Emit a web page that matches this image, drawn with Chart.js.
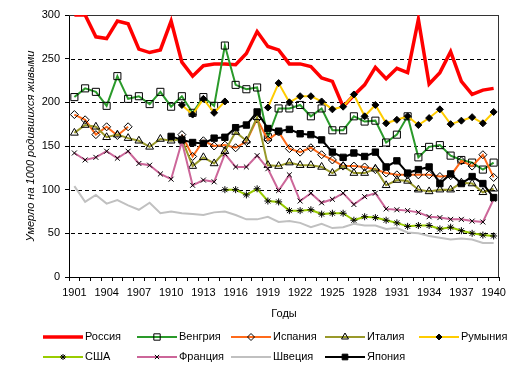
<!DOCTYPE html>
<html>
<head>
<meta charset="utf-8">
<script src="https://cdn.jsdelivr.net/npm/chart.js"></script>
<style>
html, body { margin: 0; padding: 0; background: #fff; }
</style>
</head>
<body>
<canvas id="mortalityChart" width="514" height="372"></canvas>
<script>
// infant mortality, deaths per 1000 live births, 1901-1940
const years = ['1901','1902','1903','1904','1905','1906','1907','1908','1909','1910',
  '1911','1912','1913','1914','1915','1916','1917','1918','1919','1920',
  '1921','1922','1923','1924','1925','1926','1927','1928','1929','1930',
  '1931','1932','1933','1934','1935','1936','1937','1938','1939','1940'];
const tickYears = ['1901','1904','1907','1910','1913','1916','1919','1922','1925','1928','1931','1934','1937','1940'];
const yTicks = [0, 50, 100, 150, 200, 250, 300];

const russia = [300,300,275,273,293,290,261,257,260,293,246,230,242,244,244,243,256,281,264,260,
  244,244,241,228,224,195,208,220,240,227,239,234,295,221,234,258,224,209,214,216];
const hungary = [206,216,212,196,230,204,207,198,212,195,207,188,206,196,265,220,215,217,160,193,
  193,197,184,193,168,168,184,178,179,154,163,184,137,149,151,139,134,131,123,131];
const spain = [186,180,163,172,162,172,null,null,null,null,163,138,156,150,151,148,155,181,157,166,
  147,143,148,140,134,127,127,126,123,119,117,117,117,117,115,116,133,127,140,114];
const italy = [165,174,172,160,163,159,156,149,158,156,158,127,137,130,144,166,156,183,128,127,
  131,128,128,126,119,127,119,119,124,105,111,110,100,98,100,100,108,107,97,101];
const romania = [null,null,null,null,null,null,null,null,null,null,197,186,204,188,201,null,null,null,194,222,
  200,207,207,201,192,195,209,184,197,176,180,184,174,182,192,175,179,183,176,189];
const usa = [null,null,null,null,null,null,null,null,null,null,null,null,null,null,100,100,94,101,87,86,
  76,76,77,72,73,73,65,69,68,65,62,58,59,59,55,57,53,50,48,47];
const france = [142,134,137,144,136,144,130,128,118,112,155,105,111,109,141,126,126,139,124,99,
  117,87,96,85,89,96,83,92,96,78,77,76,74,69,68,66,66,64,63,89];
const sweden = [104,86,94,84,88,82,77,85,73,75,73,72,71,74,75,71,66,66,69,63,
  64,62,57,61,56,57,61,59,59,55,56,51,50,47,45,43,44,43,39,39];
const japan = [null,null,null,null,null,null,null,null,null,161,157,154,153,159,160,171,174,189,170,167,
  169,164,163,157,143,137,142,138,143,126,133,119,123,126,107,118,107,115,107,91];

Chart.defaults.font.family = '"Liberation Sans", Arial, sans-serif';
Chart.defaults.font.size = 11;
Chart.defaults.color = '#000';

function series(label, data, color, width, style, radius, fill) {
  return {
    label: label,
    data: data,
    borderColor: color,
    backgroundColor: color,
    borderWidth: width,
    pointStyle: style || 'circle',
    pointRadius: style ? radius : 0,
    pointHoverRadius: style ? radius : 0,
    pointBorderColor: '#000',
    pointBackgroundColor: fill || 'rgba(0,0,0,0)',
    pointBorderWidth: 1,
    tension: 0,
    fill: false
  };
}

const datasets = [
  series('Россия', russia, '#FF0000', 3.5),
  series('Венгрия', hungary, '#2A9A2A', 2, 'rect', 5),
  series('Испания', spain, '#FF6A1A', 2, 'rectRot', 4),
  series('Италия', italy, '#99992A', 2, 'triangle', 4.5),
  series('Румыния', romania, '#FFCC00', 2, 'rectRot', 3.5, '#000'),
  series('США', usa, '#99CC00', 2, 'star', 3.5),
  series('Франция', france, '#CC6699', 2, 'crossRot', 3.5),
  series('Швеция', sweden, '#C0C0C0', 2),
  series('Япония', japan, '#000000', 2, 'rect', 4.5, '#000')
];
// later series sit on top, as in the original
datasets.forEach((d, i) => { d.order = 20 - i; });

// dashed guides and the top/right frame, drawn as plain rects under the data
const plotFrame = {
  id: 'plotFrame',
  beforeDatasetsDraw(chart) {
    const a = chart.chartArea;
    const y = chart.scales.y;
    const ctx = chart.ctx;
    const l = Math.round(a.left), r = Math.round(a.right);
    const t = Math.round(a.top), b = Math.round(a.bottom);
    ctx.save();
    ctx.fillStyle = '#000000';
    yTicks.slice(1, -1).forEach(v => {
      const py = Math.round(y.getPixelForValue(v));
      for (let x = l + 2; x < r - 1; x += 7) {
        ctx.fillRect(x, py, Math.min(4, r - 1 - x), 1);
      }
    });
    ctx.fillStyle = '#333333';
    ctx.fillRect(l, t, r - l, 1);
    ctx.fillRect(r - 1, t, 1, b - t);
    ctx.restore();
  }
};

const bottomLegend = {
  id: 'bottomLegend',
  afterDraw(chart) {
    const ctx = chart.ctx;
    const cols = [43, 137, 231, 325, 419];
    const rows = [337, 357];
    chart.data.datasets.forEach((ds, i) => {
      const x = cols[i % 5];
      const y = rows[Math.floor(i / 5)];
      ctx.save();
      ctx.strokeStyle = ds.borderColor;
      ctx.lineWidth = ds.borderWidth;
      ctx.beginPath();
      ctx.moveTo(x, y);
      ctx.lineTo(x + 40, y);
      ctx.stroke();
      if (ds.pointRadius > 0 && Chart.helpers && Chart.helpers.drawPoint) {
        ctx.fillStyle = ds.pointBackgroundColor;
        ctx.strokeStyle = ds.pointBorderColor;
        ctx.lineWidth = 1;
        Chart.helpers.drawPoint(ctx, {
          pointStyle: ds.pointStyle, radius: ds.pointRadius - 0.5, rotation: 0, borderWidth: 1
        }, x + 20, y);
      }
      ctx.fillStyle = '#000';
      ctx.font = '11px "Liberation Sans", Arial, sans-serif';
      ctx.textBaseline = 'middle';
      ctx.textAlign = 'left';
      ctx.fillText(ds.label, x + 42, y);
      ctx.restore();
    });
  }
};

new Chart(document.getElementById('mortalityChart'), {
  type: 'line',
  data: { labels: years, datasets: datasets },
  options: {
    responsive: false,
    animation: false,
    layout: { padding: { top: 15, right: 15, bottom: 47, left: 0 } },
    plugins: {
      legend: { display: false },
      tooltip: { enabled: false }
    },
    scales: {
      x: {
        offset: true,
        afterFit: (s) => { s.height = 48; },
        grid: {
          offset: true,
          drawOnChartArea: false,
          drawTicks: true,
          tickLength: 4,
          color: '#000',
          tickColor: '#000'
        },
        border: { color: '#000', width: 1 },
        ticks: {
          autoSkip: false,
          maxRotation: 0,
          padding: 5,
          callback: function (val) {
            const lab = this.getLabelForValue(val);
            return tickYears.includes(lab) ? lab : '';
          }
        },
        title: {
          display: true,
          text: 'Годы',
          padding: { top: 4, bottom: 4 }
        }
      },
      y: {
        min: yTicks[0],
        max: yTicks[yTicks.length - 1],
        afterFit: (s) => { s.width = 69; },
        afterBuildTicks: (s) => { s.ticks = yTicks.map(v => ({ value: v })); },
        grid: {
          drawOnChartArea: false,
          drawTicks: true,
          tickLength: 4,
          color: '#000',
          tickColor: '#000'
        },
        border: { color: '#000', width: 1 },
        ticks: { padding: 5 },
        title: {
          display: true,
          text: 'Умерло на 1000 родившихся живыми',
          font: { style: 'italic', size: 11 },
          padding: { top: 24, bottom: 0 }
        }
      }
    }
  },
  plugins: [plotFrame, bottomLegend]
});
</script>
</body>
</html>
